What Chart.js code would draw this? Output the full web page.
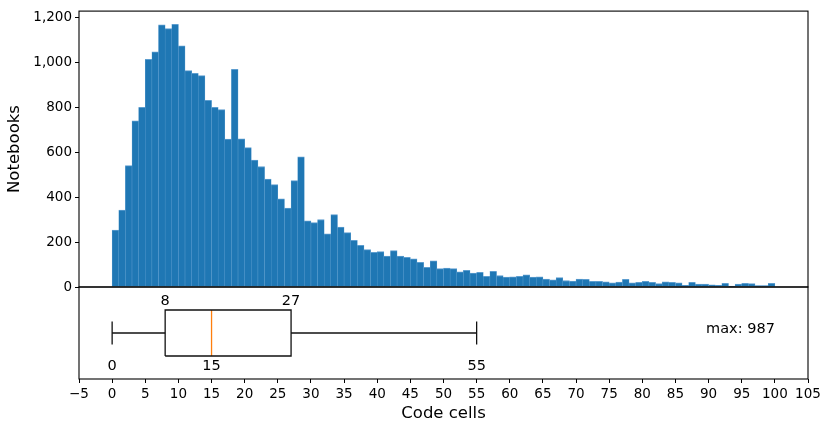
<!DOCTYPE html>
<html><head><meta charset="utf-8">
<script src="https://cdn.jsdelivr.net/npm/chart.js@4/dist/chart.umd.min.js"></script>
<style>
html,body{margin:0;padding:0;background:#fff;}
#wrap{position:relative;width:830px;height:430px;}
canvas{position:absolute;left:0;}
#hist{top:0;}
#box{top:280px;}
</style></head><body>
<div id="wrap">
<canvas id="hist" width="830" height="300"></canvas>
<canvas id="box" width="830" height="150"></canvas>
</div>
<script>
// histogram: one bar per code-cell count, bins [0,1), [1,2) ... [99,100]
const binStart = 0;
const counts = [
  253, 342, 540, 739, 799, 1012, 1046, 1166, 1149, 1168,
  1072, 962, 950, 940, 830, 799, 789, 658, 968, 659,
  620, 564, 536, 480, 455, 392, 351, 473, 579, 294,
  286, 300, 236, 322, 266, 242, 207, 185, 166, 154,
  157, 138, 162, 137, 132, 125, 110, 88, 116, 82,
  84, 82, 68, 74, 62, 65, 47, 70, 51, 44,
  45, 48, 54, 44, 45, 35, 32, 42, 29, 26,
  35, 34, 25, 25, 23, 19, 22, 34, 18, 21,
  25, 21, 15, 23, 21, 18, 7, 21, 13, 13,
  10, 7, 16, 4, 13, 16, 15, 6, 6, 16
];
const yTicks = [0, 200, 400, 600, 800, 1000, 1200];
const xTicks = [-5, 0, 5, 10, 15, 20, 25, 30, 35, 40, 45, 50, 55, 60, 65, 70, 75, 80, 85, 90, 95, 100, 105];
// box plot: low whisker, Q1, median, Q3, high whisker
const boxValues = [0, 8, 15, 27, 55];
const maxCells = 987;

const FONT = 'DejaVu Sans';
const BLUE = '#1f77b4';
const xRange = { min: -5, max: 105 };

const fmt = v => v < 0 ? '\u2212' + Math.abs(v) : v.toLocaleString('en-US');

const frame = {
  id: 'frame',
  afterDraw(chart){
    const a = chart.chartArea, ctx = chart.ctx;
    ctx.save();
    ctx.strokeStyle = '#000'; ctx.lineWidth = 1.1;
    ctx.strokeRect(a.left, a.top, a.right - a.left, a.bottom - a.top);
    ctx.restore();
  }
};

const tickAxis = (ticks) => ({
  grid: { display: true, drawOnChartArea: false, drawTicks: true, tickLength: 4, tickColor: '#000', tickWidth: 1 },
  border: { display: false },
  afterBuildTicks: s => { s.ticks = ticks.map(v => ({ value: v })); },
  ticks: { color: '#000', font: { family: FONT, size: 13.5 }, padding: 3, autoSkip: false, maxRotation: 0, callback: v => fmt(v) }
});

new Chart(document.getElementById('hist'), {
  type: 'bar',
  data: {
    datasets: [{
      data: counts.map((c, i) => ({ x: binStart + i + 0.5, y: c })),
      backgroundColor: BLUE,
      borderColor: '#5c9dcf',
      borderWidth: { top: 1, left: 0.5, right: 0.5, bottom: 0 },
      borderSkipped: false,
      barPercentage: 1, categoryPercentage: 1
    }]
  },
  options: {
    responsive: false, devicePixelRatio: 1, animation: false,
    layout: { padding: { left: 0, top: 8, right: 22, bottom: 13 } },
    plugins: { legend: { display: false }, tooltip: { enabled: false } },
    scales: {
      x: { type: 'linear', min: xRange.min, max: xRange.max, offset: false, display: false },
      y: Object.assign(tickAxis(yTicks), {
        min: 0, max: 1227,
        afterFit: s => { s.width = 79; },
        title: { display: true, text: 'Notebooks', color: '#000', font: { family: FONT, size: 16.5 }, padding: { top: 5, bottom: 0 } }
      })
    }
  },
  plugins: [frame]
});

// box plot panel
const [lo, q1, med, q3, hi] = boxValues;
const seg = (pts, color) => ({ data: pts.map(([x, y]) => ({ x, y })), showLine: true, pointRadius: 0,
  borderColor: color || '#111', borderWidth: 1.3, tension: 0, fill: false });

const boxText = {
  id: 'boxText',
  afterDatasetsDraw(chart){
    const { ctx, scales: { x, y } } = chart;
    ctx.save();
    ctx.fillStyle = '#000';
    ctx.font = '14.5px "' + FONT + '"';
    ctx.textAlign = 'center'; ctx.textBaseline = 'alphabetic';
    [q1, q3].forEach(v => ctx.fillText(String(v), x.getPixelForValue(v), y.getPixelForValue(1.3)));
    [lo, med, hi].forEach(v => ctx.fillText(String(v), x.getPixelForValue(v), y.getPixelForValue(0.6)));
    ctx.textAlign = 'right';
    ctx.fillText('max: ' + maxCells, x.getPixelForValue(100), y.getPixelForValue(1));
    ctx.restore();
  }
};

new Chart(document.getElementById('box'), {
  type: 'scatter',
  data: {
    datasets: [
      seg([[lo, 1], [q1, 1]]),
      seg([[q3, 1], [hi, 1]]),
      seg([[lo, 0.875], [lo, 1.125]]),
      seg([[hi, 0.875], [hi, 1.125]]),
      seg([[q1, 0.75], [q3, 0.75], [q3, 1.25], [q1, 1.25], [q1, 0.75]]),
      seg([[med, 0.75], [med, 1.25]], '#ff7f0e')
    ]
  },
  options: {
    responsive: false, devicePixelRatio: 1, animation: false,
    layout: { padding: { left: 79, top: 7, right: 22, bottom: 0 } },
    plugins: { legend: { display: false }, tooltip: { enabled: false } },
    scales: {
      x: Object.assign(tickAxis(xTicks), {
        type: 'linear', min: xRange.min, max: xRange.max,
        afterFit: s => { s.height = 51; },
        title: { display: true, text: 'Code cells', color: '#000', font: { family: FONT, size: 16.5 }, padding: { top: 0, bottom: 6.5 } }
      }),
      y: { type: 'linear', min: 0.5, max: 1.5, display: false }
    }
  },
  plugins: [frame, boxText]
});
</script>
</body></html>
